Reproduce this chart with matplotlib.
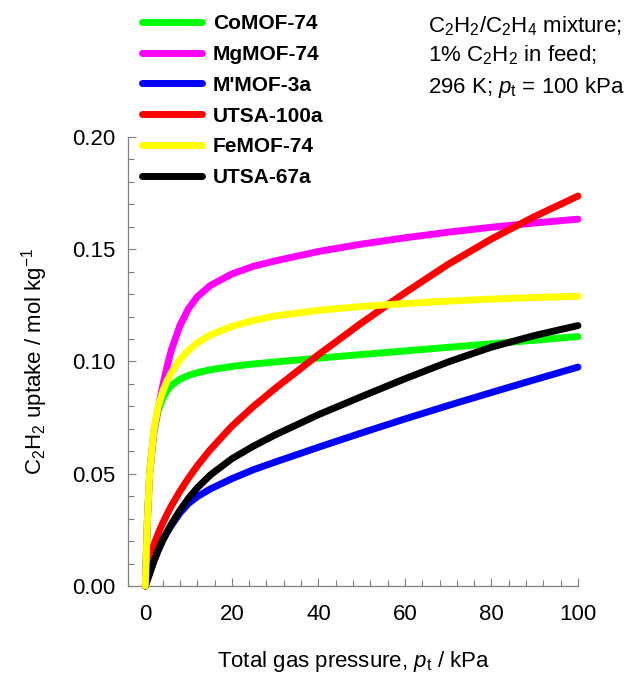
import numpy as np
import matplotlib
matplotlib.use('Agg')
from matplotlib import pyplot as plt
from matplotlib.ticker import MultipleLocator, FormatStrFormatter

plt.rcParams['font.family'] = ['Liberation Sans', 'DejaVu Sans']
plt.rcParams['mathtext.fontset'] = 'custom'
plt.rcParams['mathtext.rm'] = 'Liberation Sans'
plt.rcParams['mathtext.it'] = 'Liberation Sans:italic'

# total pressure, kPa
p_tot = [0, 0.5, 1, 2, 3, 4, 5, 6, 8, 10, 12, 15, 20, 25, 30, 40, 50, 60, 70, 80, 90, 100]

# C2H2 uptake, mol/kg
co_mof74 = [0, 0.030, 0.050, 0.069, 0.078, 0.0835, 0.087, 0.0893, 0.0921, 0.0938, 0.0950, 0.0963,
            0.0978, 0.0989, 0.0998, 0.1015, 0.1031, 0.1047, 0.1063, 0.1079, 0.1095, 0.1111]
mg_mof74 = [0, 0.030, 0.050, 0.069, 0.0795, 0.089, 0.0975, 0.1050, 0.1160, 0.1236, 0.1288, 0.1338,
            0.1390, 0.1424, 0.1448, 0.1490, 0.1523, 0.1551, 0.1576, 0.1598, 0.1617, 0.1634]
mmof3a = [0, 0.0028, 0.0056, 0.0112, 0.016, 0.0202, 0.0238, 0.0269, 0.0325, 0.0368, 0.0398, 0.0432,
          0.0478, 0.0518, 0.0552, 0.0618, 0.0682, 0.0744, 0.0804, 0.0862, 0.0919, 0.0975]
utsa100a = [0, 0.007, 0.012, 0.0185, 0.0235, 0.0279, 0.0319, 0.0356, 0.0422, 0.0481, 0.0535, 0.0607,
            0.0712, 0.0800, 0.0880, 0.1030, 0.1172, 0.1306, 0.1433, 0.1546, 0.1646, 0.1737]
fe_mof74 = [0, 0.030, 0.050, 0.070, 0.080, 0.0865, 0.0912, 0.0950, 0.1008, 0.1050, 0.1083, 0.1118,
            0.1156, 0.1183, 0.1203, 0.1228, 0.1245, 0.1258, 0.1269, 0.1278, 0.1285, 0.1291]
utsa67a = [0, 0.0028, 0.0056, 0.0112, 0.016, 0.0203, 0.024, 0.0275, 0.0337, 0.0391, 0.0437, 0.0494,
           0.0567, 0.0623, 0.0673, 0.0763, 0.0844, 0.0923, 0.0998, 0.1064, 0.1116, 0.116]

names = ['CoMOF-74', 'MgMOF-74', "M'MOF-3a", 'UTSA-100a', 'FeMOF-74', 'UTSA-67a']
series = [co_mof74, mg_mof74, mmof3a, utsa100a, fe_mof74, utsa67a]
colors = ['#00ff00', '#ff00ff', '#0000ff', '#ff0000', '#ffff00', '#000000']
zorders = [1, 2, 3, 4, 6, 5]

fig = plt.figure(figsize=(6.36, 6.75), dpi=100)
ax = fig.add_axes([128/636, 89/675, 450/636, 449/675])

for y, name, c, z in zip(series, names, colors, zorders):
    ax.plot(p_tot, y, color=c, lw=5, label=name, zorder=z,
            solid_capstyle='round', solid_joinstyle='round', clip_on=False)

ax.set_xlim(-4, 100)
ax.set_ylim(0, 0.20)
ax.xaxis.set_major_locator(MultipleLocator(20))
ax.xaxis.set_minor_locator(MultipleLocator(4))
ax.yaxis.set_major_locator(MultipleLocator(0.05))
ax.yaxis.set_minor_locator(MultipleLocator(0.01))
ax.yaxis.set_major_formatter(FormatStrFormatter('%.2f'))

for s in ['top', 'right']:
    ax.spines[s].set_visible(False)
for s in ['left', 'bottom']:
    ax.spines[s].set_color('#808080')
    ax.spines[s].set_linewidth(0.9)

ax.tick_params(which='both', direction='in', color='#808080', width=0.8, labelsize=16)
ax.tick_params(which='major', length=6)
ax.tick_params(which='minor', length=4)
ax.tick_params(axis='x', which='major', pad=13)
ax.tick_params(axis='y', which='major', pad=9)

ax.set_xlabel(r'Total gas pressure, $\it{p}_\mathrm{t}$ / kPa', fontsize=16, labelpad=17)
ax.set_ylabel(r'C$_2$H$_2$ uptake / mol kg$^{-1}$', fontsize=16, labelpad=16)

leg = ax.legend(loc='upper left', bbox_to_anchor=(142/636, 1 - 14/675),
                bbox_transform=fig.transFigure, frameon=False,
                prop={'weight': 'bold', 'size': 15}, handlelength=2.9,
                handletextpad=0.5, labelspacing=0.57, borderpad=0, borderaxespad=0)
for h in leg.get_lines():
    h.set_solid_capstyle('round')

fig.text(428/636, 1 - 32/675, r'C$_2$H$_2$/C$_2$H$_4$ mixture;', fontsize=16, va='baseline')
fig.text(428/636, 1 - 61/675, r'1% C$_2$H$_2$ in feed;', fontsize=16, va='baseline')
fig.text(428/636, 1 - 93/675, r'296 K; $\it{p}_\mathrm{t}$ = 100 kPa', fontsize=16, va='baseline')

fig.savefig('out.png', dpi=100)
